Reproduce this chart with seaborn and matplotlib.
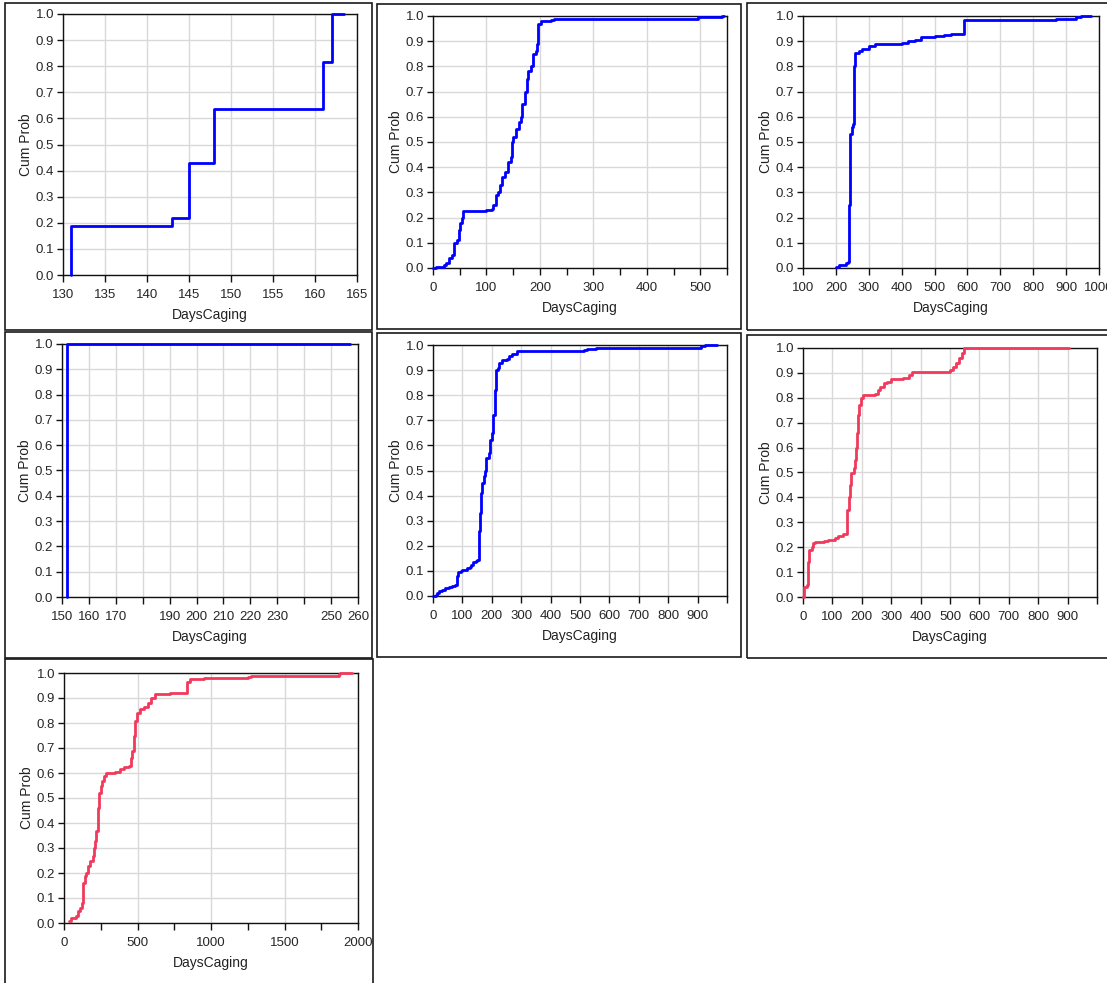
import numpy as np
import pandas as pd
import seaborn as sns
import matplotlib.pyplot as plt
from matplotlib.patches import Rectangle
from matplotlib.ticker import MultipleLocator, FixedLocator, FixedFormatter

sns.set_style('white')
plt.rcParams['font.family'] = ['Liberation Sans', 'DejaVu Sans']

BLUE = '#0000FF'
RED = '#F03A5C'

# step points: x where the step happens, y = cum prob after the step
p1_x = [131, 131, 143, 145, 148, 161, 162, 163.5]
p1_y = [0.0, 0.1875, 0.22, 0.43, 0.635, 0.815, 1.0, 1.0]

p2_x = [0, 5, 20, 25, 30, 35, 40, 45, 48, 50, 55, 57, 95, 100, 110, 113, 117, 122, 125, 130,
        135, 140, 145, 147, 150, 155, 160, 165, 167, 172, 175, 178, 183, 188, 192, 195, 197,
        202, 220, 227, 495, 540, 545]
p2_y = [0.0, 0.005, 0.01, 0.02, 0.04, 0.05, 0.1, 0.11, 0.15, 0.18, 0.2, 0.225, 0.227, 0.23,
        0.235, 0.25, 0.29, 0.3, 0.33, 0.36, 0.38, 0.42, 0.44, 0.5, 0.52, 0.55, 0.58, 0.6, 0.65,
        0.7, 0.75, 0.78, 0.8, 0.85, 0.86, 0.89, 0.97, 0.98, 0.985, 0.99, 0.995, 1.0, 1.0]

p3_x = [200, 210, 230, 238, 240, 243, 248, 253, 255, 258, 270, 280, 300, 320, 400, 420, 440,
        460, 500, 530, 550, 590, 870, 930, 945, 975]
p3_y = [0.005, 0.01, 0.02, 0.025, 0.25, 0.53, 0.56, 0.57, 0.8, 0.855, 0.86, 0.87, 0.88, 0.89,
        0.893, 0.9, 0.905, 0.915, 0.92, 0.925, 0.93, 0.985, 0.99, 0.995, 1.0, 1.0]

p4_x = [152, 152, 257]
p4_y = [0.0, 1.0, 1.0]

p5_x = [0, 10, 15, 20, 30, 40, 55, 65, 75, 80, 82, 85, 95, 100, 115, 125, 130, 135, 145, 150,
        155, 157, 160, 163, 167, 172, 177, 180, 190, 195, 200, 205, 210, 215, 220, 225, 235,
        250, 260, 270, 285, 515, 525, 555, 910, 925, 965]
p5_y = [0.0, 0.005, 0.01, 0.02, 0.025, 0.03, 0.035, 0.04, 0.045, 0.05, 0.08, 0.095, 0.1, 0.105,
        0.11, 0.115, 0.125, 0.135, 0.14, 0.145, 0.16, 0.26, 0.33, 0.41, 0.45, 0.48, 0.5, 0.55,
        0.57, 0.62, 0.65, 0.72, 0.82, 0.9, 0.91, 0.93, 0.94, 0.945, 0.955, 0.965, 0.975, 0.98,
        0.985, 0.99, 0.995, 1.0, 1.0]

p6_x = [0, 5, 15, 18, 22, 30, 35, 40, 70, 85, 110, 120, 135, 148, 150, 155, 160, 163, 172,
        178, 180, 183, 187, 190, 198, 205, 245, 255, 262, 275, 285, 300, 340, 360, 370, 500,
        510, 520, 530, 540, 548, 905]
p6_y = [0.0, 0.04, 0.05, 0.14, 0.19, 0.2, 0.215, 0.22, 0.225, 0.23, 0.235, 0.245, 0.255, 0.26,
        0.35, 0.4, 0.45, 0.5, 0.52, 0.55, 0.6, 0.66, 0.73, 0.77, 0.8, 0.81, 0.815, 0.83, 0.845,
        0.86, 0.865, 0.875, 0.88, 0.89, 0.905, 0.91, 0.925, 0.94, 0.96, 0.98, 1.0, 1.0]

p7_x = [35, 50, 80, 95, 110, 125, 128, 140, 150, 165, 180, 195, 205, 210, 220, 228, 232, 240,
        250, 260, 270, 285, 350, 380, 410, 440, 455, 465, 475, 485, 495, 515, 545, 570, 595,
        620, 720, 840, 860, 950, 1250, 1270, 1870, 1875, 1960]
p7_y = [0.01, 0.02, 0.03, 0.05, 0.06, 0.08, 0.16, 0.19, 0.2, 0.23, 0.25, 0.27, 0.3, 0.33, 0.37,
        0.42, 0.46, 0.52, 0.55, 0.57, 0.59, 0.6, 0.605, 0.615, 0.625, 0.63, 0.66, 0.69, 0.75,
        0.81, 0.84, 0.855, 0.865, 0.88, 0.9, 0.915, 0.92, 0.965, 0.975, 0.98, 0.985, 0.99,
        0.995, 1.0, 1.0]

W, H = 1107, 983
fig = plt.figure(figsize=(W / 100, H / 100), dpi=100)

# panel frames (left, top, right, bottom) in pixels
frames = [(5, 3, 372, 330), (377, 4, 741, 329), (747, 3, 1110, 330),
          (5, 332, 372, 658), (377, 333, 741, 657), (747, 335, 1110, 658),
          (5, 659, 373, 990)]
# plot areas (left, top, right, bottom) in pixels
areas = [(63, 14, 357, 275), (433, 16, 727, 268), (803, 16, 1099, 268),
         (62, 344, 358, 597), (433, 345, 727, 596), (803, 348, 1097, 597),
         (64, 673, 358, 923)]

for l, t, r, b in frames:
    fig.patches.append(Rectangle((l / W, 1 - b / H), (r - l) / W, (b - t) / H,
                                 transform=fig.transFigure, fill=False,
                                 edgecolor='#1a1a1a', lw=1.2))

panels = [
    (p1_x, p1_y, BLUE, (130, 165)),
    (p2_x, p2_y, BLUE, (0, 550)),
    (p3_x, p3_y, BLUE, (100, 1000)),
    (p4_x, p4_y, BLUE, (150, 260)),
    (p5_x, p5_y, BLUE, (0, 1000)),
    (p6_x, p6_y, RED, (0, 1000)),
    (p7_x, p7_y, RED, (0, 2000)),
]

for i, ((xs, ys, col, xlim), (l, t, r, b)) in enumerate(zip(panels, areas)):
    ax = fig.add_axes([l / W, 1 - b / H, (r - l) / W, (b - t) / H])
    df = pd.DataFrame({'x': xs, 'y': ys})
    sns.lineplot(data=df, x='x', y='y', ax=ax, color=col, lw=2, drawstyle='steps-post',
                 estimator=None, sort=False, clip_on=False, zorder=5)
    ax.set_xlim(*xlim)
    ax.set_ylim(0, 1)
    ax.yaxis.set_major_locator(MultipleLocator(0.1))
    ax.yaxis.set_major_formatter(plt.FuncFormatter(lambda v, p: f'{v:.1f}'))

    if i == 0:
        ax.xaxis.set_major_locator(MultipleLocator(5))
    elif i == 1:
        ax.xaxis.set_major_locator(MultipleLocator(100))
        ax.xaxis.set_minor_locator(MultipleLocator(50))
    elif i == 2:
        ax.xaxis.set_major_locator(MultipleLocator(100))
    elif i == 3:
        ticks = list(range(150, 261, 10))
        ax.xaxis.set_major_locator(FixedLocator(ticks))
        ax.xaxis.set_major_formatter(FixedFormatter(
            ['' if v in (180, 240) else str(v) for v in ticks]))
    elif i in (4, 5):
        ticks = list(range(0, 1001, 100))
        ax.xaxis.set_major_locator(FixedLocator(ticks))
        ax.xaxis.set_major_formatter(FixedFormatter(
            ['' if v == 1000 else str(v) for v in ticks]))
    else:
        ax.xaxis.set_major_locator(MultipleLocator(500))
        ax.xaxis.set_minor_locator(MultipleLocator(250))

    ax.grid(True, which='major', color='#d9d9d9', lw=1)
    ax.set_axisbelow(True)
    for s in ax.spines.values():
        s.set_color('#111111')
        s.set_linewidth(1)
    ax.tick_params(axis='x', which='both', direction='out', length=5, width=1,
                   color='#111111', labelsize=9.5, pad=5, bottom=True)
    ax.tick_params(axis='y', direction='out', length=4, width=1, color='#111111',
                   labelsize=9.5, pad=2.5, left=True)
    ax.set_xlabel('DaysCaging', fontsize=10, labelpad=5, color='#222222')
    ax.set_ylabel('Cum Prob', fontsize=10, labelpad=2, color='#222222')

fig.savefig('out.png', dpi=100)
